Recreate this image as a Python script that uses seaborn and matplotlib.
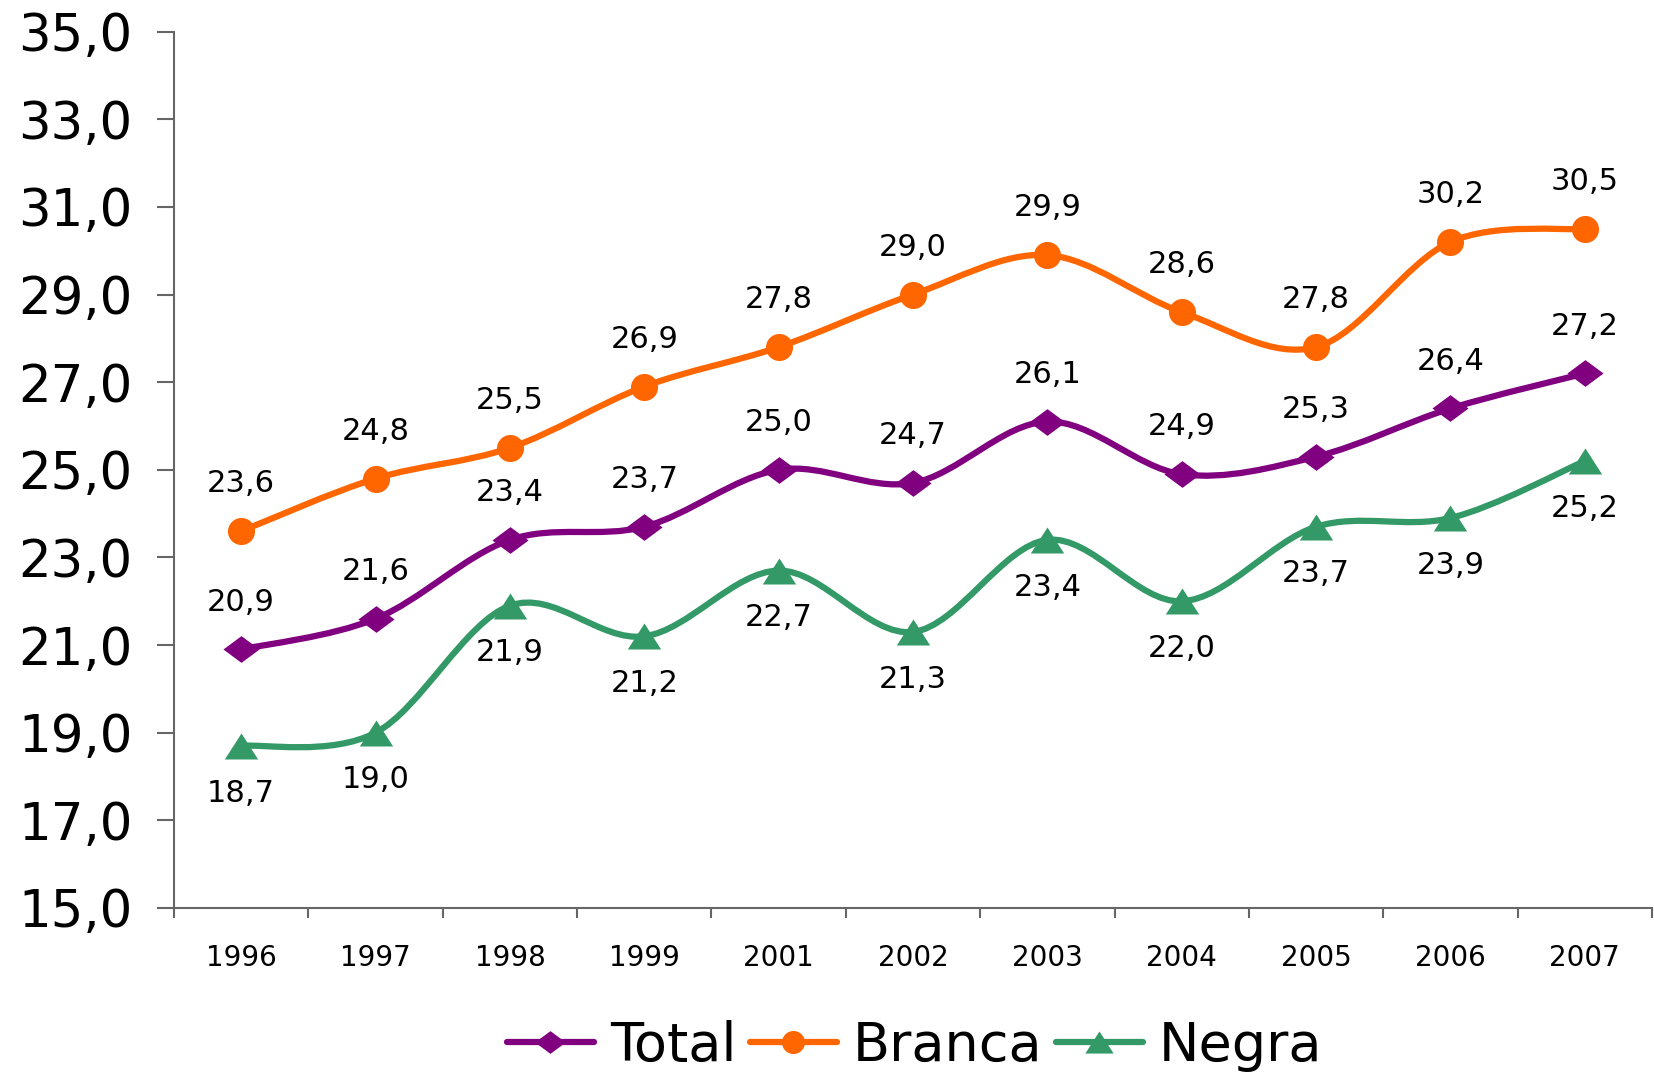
import numpy as np
import seaborn as sns
import matplotlib.pyplot as plt
from matplotlib.path import Path
from matplotlib.patches import PathPatch
from matplotlib.lines import Line2D

# dados
anos = ['1996', '1997', '1998', '1999', '2001', '2002', '2003', '2004', '2005', '2006', '2007']
total = [20.9, 21.6, 23.4, 23.7, 25.0, 24.7, 26.1, 24.9, 25.3, 26.4, 27.2]
branca = [23.6, 24.8, 25.5, 26.9, 27.8, 29.0, 29.9, 28.6, 27.8, 30.2, 30.5]
negra = [18.7, 19.0, 21.9, 21.2, 22.7, 21.3, 23.4, 22.0, 23.7, 23.9, 25.2]
y_ticks = [15, 17, 19, 21, 23, 25, 27, 29, 31, 33, 35]

sns.set_style('white')
plt.rcParams['font.family'] = ['DejaVu Sans']
plt.rcParams['text.color'] = 'black'

diamante = [(-1.35, 0), (0, 1), (1.35, 0), (0, -1), (-1.35, 0)]
triangulo = [(-1, -0.78), (0, 0.78), (1, -0.78), (-1, -0.78)]

series = [
    ('Total', total, '#800080', diamante, 26, 1),
    ('Branca', branca, '#FF6600', 'o', 19.5, 1),
    ('Negra', negra, '#339966', triangulo, 24, -1),
]


def curva_suave(xs, ys):
    # bezier estilo Excel (Catmull-Rom) passando pelos pontos
    p = np.column_stack([xs, ys]).astype(float)
    n = len(p)
    verts = [p[0]]
    codes = [Path.MOVETO]
    for i in range(n - 1):
        a = p[i - 1] if i > 0 else p[i]
        d = p[i + 2] if i + 2 < n else p[i + 1]
        c1 = p[i] + (p[i + 1] - a) / 6
        c2 = p[i + 1] - (d - p[i]) / 6
        verts += [c1, c2, p[i + 1]]
        codes += [Path.CURVE4] * 3
    return Path(verts, codes)


fig = plt.figure(figsize=(16.54, 10.72), dpi=100)
ax = fig.add_axes([0.1052, 0.153, 0.8936, 0.8175])

pos = np.arange(len(anos))
handles = []
for nome, vals, cor, mk, ms, lado in series:
    ax.add_patch(PathPatch(curva_suave(pos, vals), facecolor='none', edgecolor=cor,
                           lw=4.5, capstyle='round', joinstyle='round', zorder=2))
    sns.lineplot(x=pos, y=vals, ax=ax, color=cor, marker=mk, markersize=ms,
                 markeredgewidth=0, linestyle='none', zorder=3)
    for x, v in zip(pos, vals):
        ax.annotate(f'{v:.1f}'.replace('.', ','), (x, v), xytext=(0, 34 * lado),
                    textcoords='offset points', ha='center', va='center',
                    fontsize=22, color='black')
    handles.append(Line2D([], [], color=cor, lw=4.5, marker=mk, markersize=ms * 0.85,
                          markeredgewidth=0, solid_capstyle='round'))

ax.set_xlim(-0.5, len(anos) - 0.5)
ax.set_ylim(15, 35)
ax.set_xticks(pos)
ax.set_xticklabels(anos)
ax.set_xticks(np.arange(-0.5, len(anos)), minor=True)
ax.set_yticks(y_ticks)
ax.set_yticklabels([f'{v:.1f}'.replace('.', ',') for v in y_ticks])
ax.set_xlabel('')
ax.set_ylabel('')

for s in ['top', 'right']:
    ax.spines[s].set_visible(False)
for s in ['left', 'bottom']:
    ax.spines[s].set_color('#666666')
    ax.spines[s].set_linewidth(1.5)

ax.tick_params(axis='y', direction='out', length=12, width=1.5, color='#666666',
               labelsize=37, labelcolor='black', pad=18, left=True)
ax.tick_params(axis='x', which='major', length=0, labelsize=20, labelcolor='black', pad=26)
ax.tick_params(axis='x', which='minor', direction='out', length=7, width=1.5,
               color='#666666', bottom=True)

fig.legend(handles, ['Total', 'Branca', 'Negra'], loc='center', ncol=3,
           bbox_to_anchor=(0.553, 0.024), frameon=False, fontsize=39,
           handlelength=1.6, handletextpad=0.3, columnspacing=0.25, borderpad=0)

fig.savefig('out.png', dpi=100)
